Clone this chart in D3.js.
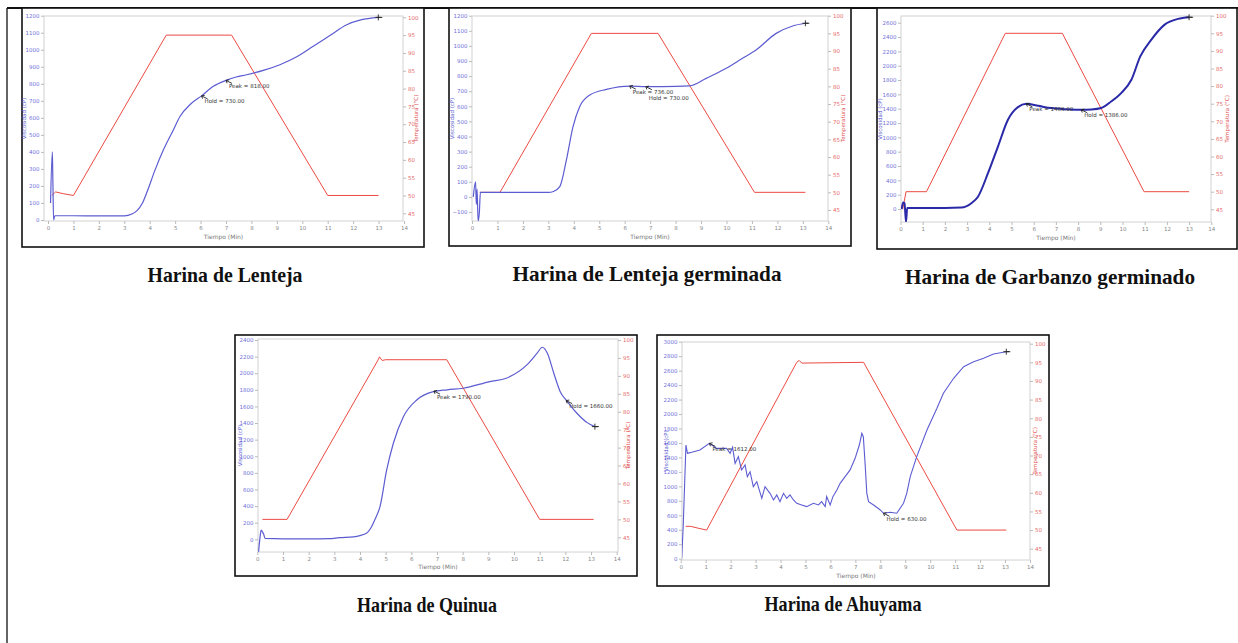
<!DOCTYPE html>
<html><head><meta charset="utf-8">
<script src="https://cdn.jsdelivr.net/npm/d3@7"></script>
<style>body{margin:0;background:#fff}svg{display:block}</style>
</head><body>
<svg id="c" width="1238" height="643"></svg>
<script>
// ---------------- DATA ----------------
const timeTicks = [0,1,2,3,4,5,6,7,8,9,10,11,12,13,14];
const tempTicks = [45,50,55,60,65,70,75,80,85,90,95,100];
const viscTicks1200 = [0,100,200,300,400,500,600,700,800,900,1000,1100,1200];
const viscTicks1200n = [-100,0,100,200,300,400,500,600,700,800,900,1000,1100,1200];
const viscTicks2600 = [0,200,400,600,800,1000,1200,1400,1600,1800,2000,2200,2400,2600];
const viscTicks2400 = [0,200,400,600,800,1000,1200,1400,1600,1800,2000,2200,2400];
const viscTicks3000 = [0,200,400,600,800,1000,1200,1400,1600,1800,2000,2200,2400,2600,2800,3000];

const titles = ["Harina de Lenteja","Harina de Lenteja germinada","Harina de Garbanzo germinado","Harina de Quinua","Harina de Ahuyama"];

// Lenteja
const lentejaTemp = [[0.15,50],[0.3,51],[0.6,50.5],[1.0,50],[4.65,95],[7.22,95],[11.0,50],[13.0,50]];
const lentejaVisc = [[0.1,100],[0.17,400],[0.19,250],[0.22,0],[0.27,25],[1,25],[2,24],[3,24],[3.3,35],[3.5,55],[3.7,95],[3.9,167],[4.2,290],[4.54,412],[4.9,520],[5.19,608],[5.6,680],[6.04,729],[6.5,785],[7.0,820],[7.4,840],[7.81,853],[8.5,880],[9.12,912],[9.8,960],[10.43,1020],[11.1,1085],[11.75,1147],[12.3,1175],[12.99,1190]];
const lentejaMarks = [[6.04,729,"Hold = 730.00"],[7.0,820,"Peak = 818.00"],[12.99,1190,""]];

// Lenteja germinada
const lentejaGTemp = [[0.3,50],[1.1,50],[4.69,95],[7.31,95],[11.1,50],[13.1,50]];
const lentejaGVisc = [[0.05,0],[0.14,100],[0.17,-50],[0.2,50],[0.24,-160],[0.29,-100],[0.33,30],[1,30],[2,30],[3,30],[3.2,36],[3.45,68],[3.71,245],[3.97,465],[4.23,597],[4.63,675],[5.28,712],[6.2,734],[6.83,730],[7.5,730],[8.55,735],[9.2,785],[9.99,852],[10.6,915],[11.16,973],[11.95,1083],[12.6,1132],[13.1,1150]];
const lentejaGMarks = [[6.2,734,"Peak = 736.00"],[6.83,730,"Hold = 730.00"],[13.1,1150,""]];

// Garbanzo germinado
const garbanzoTemp = [[0.1,45],[0.25,50],[1.17,50],[4.72,95],[7.29,95],[10.97,50],[13.0,50]];
const garbanzoVisc = [[0.05,0],[0.12,90],[0.18,80],[0.25,-180],[0.3,15],[1,15],[2,15],[2.74,20],[3.19,80],[3.49,172],[3.94,499],[4.39,871],[4.84,1245],[5.29,1422],[5.67,1468],[6.2,1440],[6.79,1408],[7.5,1392],[8.14,1385],[8.6,1390],[9.04,1410],[9.49,1500],[9.94,1618],[10.4,1804],[10.8,2130],[11.3,2364],[11.9,2573],[12.5,2653],[13.0,2676]];
const garbanzoMarks = [[5.67,1468,"Peak = 1468.00"],[8.14,1385,"Hold = 1386.00"],[13.0,2676,""]];

// Quinua
const quinuaTemp = [[0.2,50],[1.16,50],[4.71,94.5],[4.76,95.3],[4.86,94.3],[5.0,94.5],[7.38,94.5],[11.0,50],[13.1,50]];
const quinuaVisc = [[0.05,-150],[0.12,60],[0.15,112],[0.2,90],[0.25,60],[0.3,10],[1,5],[2,5],[2.8,8],[3.2,20],[3.75,30],[4.0,45],[4.25,72],[4.45,152],[4.6,250],[4.78,393],[5.04,835],[5.3,1157],[5.69,1477],[6.21,1678],[6.86,1778],[7.4,1800],[8.02,1819],[9.06,1899],[9.7,1940],[10.5,2100],[10.9,2241],[11.1,2313],[11.3,2241],[11.55,2000],[11.8,1778],[12.05,1670],[12.45,1518],[12.85,1405],[13.15,1357]];
const quinuaMarks = [[6.88,1785,"Peak = 1790.00"],[12.03,1670,"Hold = 1660.00"],[13.15,1357,""]];

// Ahuyama
const ahuyamaTemp = [[0.2,51],[0.4,51],[0.7,50.5],[1.04,50],[4.65,95],[4.75,95.5],[4.85,94.8],[7.33,95],[11.07,50],[13.05,50]];
const ahuyamaVisc = [[0.04,5],[0.10,442],[0.21,1572],[0.27,1458],[0.37,1466],[0.77,1502],[1.15,1594],[1.44,1525],[1.84,1526],[1.98,1457],[2.08,1540],[2.18,1318],[2.31,1411],[2.44,1227],[2.58,1296],[2.67,1134],[2.78,1203],[2.91,996],[3.05,1065],[3.25,835],[3.38,996],[3.58,904],[3.72,812],[3.85,881],[3.98,789],[4.12,904],[4.25,835],[4.38,881],[4.52,812],[4.65,766],[4.85,743],[5.05,720],[5.32,766],[5.52,743],[5.65,789],[5.79,720],[5.85,858],[5.99,743],[6.10,858],[6.26,950],[6.39,1042],[6.59,1134],[6.79,1227],[6.99,1388],[7.16,1572],[7.26,1733],[7.32,1687],[7.39,1318],[7.46,904],[7.53,789],[7.73,743],[8.0,674],[8.13,628],[8.40,642],[8.66,628],[8.93,766],[9.06,904],[9.20,1134],[9.46,1411],[9.87,1780],[10.27,2079],[10.53,2287],[10.94,2494],[11.34,2655],[11.74,2724],[12.14,2770],[12.54,2830],[13.05,2862]];
const ahuyamaMarks = [[1.15,1594,"Peak = 1612.00"],[8.13,628,"Hold = 630.00"],[13.05,2862,""]];

// ---------------- LAYOUT ----------------
const layout = [
  {box:[22,8,424,247], plot:[44,16,403,221], x:[48,404], left:[0,220,1200,15.7], right:[45,213.3,100,17.3], lt:viscTicks1200, ltitle:26, rtitle:418, xl:239, title:[225,282,155], temp:lentejaTemp, visc:lentejaVisc, marks:lentejaMarks, vc:"#5c5cd2", vw:1.2},
  {box:[449,8,851,246], plot:[472,16,828,221], x:[472,828.3], left:[-100,212,1200,15.7], right:[45,210,100,15.7], lt:viscTicks1200n, ltitle:454, rtitle:845, xl:239, title:[647,281,269], temp:lentejaGTemp, visc:lentejaGVisc, marks:lentejaGMarks, vc:"#5c5cd2", vw:1.2, stagger:true},
  {box:[877,8,1237,249], plot:[901,16,1211,222], x:[900.5,1211.3], left:[0,209,2600,22.7], right:[45,209.3,100,15.7], lt:viscTicks2600, ltitle:882, rtitle:1229, xl:239.5, title:[1050,284,290], temp:garbanzoTemp, visc:garbanzoVisc, marks:garbanzoMarks, vc:"#2a2aa8", vw:2},
  {box:[235,335,637,576], plot:[258,339,618,552], x:[257.3,616.7], left:[0,539.3,2400,340], right:[45,537.3,100,340], lt:viscTicks2400, ltitle:242, rtitle:630, xl:569, title:[427,612,140], temp:quinuaTemp, visc:quinuaVisc, marks:quinuaMarks, vc:"#5c5cd2", vw:1.2},
  {box:[657,335,1049,586], plot:[682,342,1030,560], x:[680.7,1030], left:[0,558.7,3000,341.7], right:[45,548.7,100,343.7], lt:viscTicks3000, ltitle:668, rtitle:1037, xl:578, title:[843,611,157], temp:ahuyamaTemp, visc:ahuyamaVisc, marks:ahuyamaMarks, vc:"#5c5cd2", vw:1.1, linear:true}
];

// ---------------- DRAW ----------------
const svg = d3.select("#c");
svg.append("rect").attr("width",1238).attr("height",643).attr("fill","#fff");
svg.append("line").attr("x1",7).attr("x2",1238).attr("y1",8).attr("y2",8).attr("stroke","#111").attr("stroke-width",2);
svg.append("line").attr("x1",7).attr("x2",7).attr("y1",8).attr("y2",643).attr("stroke","#111").attr("stroke-width",1.3);

const tickFont = "DejaVu Sans, sans-serif";

layout.forEach((L,i)=>{
  const g = svg.append("g");
  const [bx0,by0,bx1,by1] = L.box;
  g.append("rect").attr("x",bx0).attr("y",by0).attr("width",bx1-bx0).attr("height",by1-by0)
    .attr("fill","#fff").attr("stroke","#111").attr("stroke-width",1.6);
  const [pl,pt,pr,pb] = L.plot;
  const x = d3.scaleLinear().domain([0,14]).range(L.x);
  const yl = d3.scaleLinear().domain([L.left[0],L.left[2]]).range([L.left[1],L.left[3]]);
  const yr = d3.scaleLinear().domain([L.right[0],L.right[2]]).range([L.right[1],L.right[3]]);

  g.append("rect").attr("x",pl).attr("y",pt).attr("width",pr-pl).attr("height",pb-pt)
    .attr("fill","#fff").attr("stroke","#d2d2d2").attr("stroke-width",1);

  const xa = g.append("g").attr("transform",`translate(0,${pb})`)
    .call(d3.axisBottom(x).tickValues(timeTicks).tickSize(3).tickPadding(2));
  const ya = g.append("g").attr("transform",`translate(${pl},0)`)
    .call(d3.axisLeft(yl).tickValues(L.lt).tickFormat(d3.format("d")).tickSize(3).tickPadding(1.5));
  const ra = g.append("g").attr("transform",`translate(${pr},0)`)
    .call(d3.axisRight(yr).tickValues(tempTicks).tickSize(3).tickPadding(2));
  [xa,ya,ra].forEach(a=>{ a.select(".domain").remove(); a.selectAll("line").attr("stroke","#bbb");
    a.selectAll("text").style("font-family",tickFont).style("font-size","5.5px"); });
  xa.selectAll("text").attr("fill","#888");
  ya.selectAll("text").attr("fill","#7070d8");
  ra.selectAll("text").attr("fill","#e66a6a");

  g.append("text").attr("x",(pl+pr)/2).attr("y",L.xl).attr("text-anchor","middle")
    .style("font-family",tickFont).style("font-size","6px").attr("fill","#777").text("Tiempo (Min)");
  g.append("text").attr("transform",`translate(${L.ltitle},${(pt+pb)/2}) rotate(-90)`).attr("text-anchor","middle")
    .style("font-family",tickFont).style("font-size","5.5px").attr("fill","#5a5ad0").text("Viscosidad (cP)");
  g.append("text").attr("transform",`translate(${L.rtitle},${(pt+pb)/2}) rotate(-90)`).attr("text-anchor","middle")
    .style("font-family",tickFont).style("font-size","5.5px").attr("fill","#e05050").text("Temperatura (°C)");

  const cid = "clip"+i;
  svg.append("clipPath").attr("id",cid).append("rect").attr("x",pl).attr("y",pt).attr("width",pr-pl).attr("height",pb-pt);
  const lines = g.append("g").attr("clip-path",`url(#${cid})`);

  const tLine = d3.line().x(d=>x(d[0])).y(d=>yr(d[1]));
  lines.append("path").attr("d",tLine(L.temp)).attr("fill","none").attr("stroke","#ec4a42").attr("stroke-width",1);

  const vLine = d3.line().x(d=>x(d[0])).y(d=>yl(d[1])).curve(L.linear?d3.curveLinear:d3.curveMonotoneX);
  lines.append("path").attr("d",vLine(L.visc)).attr("fill","none").attr("stroke",L.vc).attr("stroke-width",L.vw);

  L.marks.forEach((m,k)=>{
    const px = x(m[0]), py = yl(m[1]);
    if(m[2]){
      g.append("path").attr("d",`M${px},${py} l6,3 M${px},${py} l3.2,-0.6 M${px},${py} l1,2.8`)
        .attr("stroke","#222").attr("stroke-width",0.9).attr("fill","none");
      const dy = (L.stagger && k===1) ? 13.5 : 7.5;
      g.append("text").attr("x",px+3).attr("y",py+dy).style("font-family",tickFont).style("font-size","5.5px")
        .attr("fill","#333").text(m[2]);
    } else {
      g.append("path").attr("d",`M${px-3},${py} h6 M${px},${py-3} v6 M${px},${py} h4`)
        .attr("stroke","#222").attr("stroke-width",0.9);
    }
  });

  g.append("text").attr("x",L.title[0]).attr("y",L.title[1]).attr("text-anchor","middle")
    .attr("textLength",L.title[2]).attr("lengthAdjust","spacingAndGlyphs")
    .style("font-family","Liberation Serif, Times New Roman, serif").style("font-weight","bold").style("font-size","21px")
    .attr("fill","#111").text(titles[i]);
});
</script>
</body></html>
